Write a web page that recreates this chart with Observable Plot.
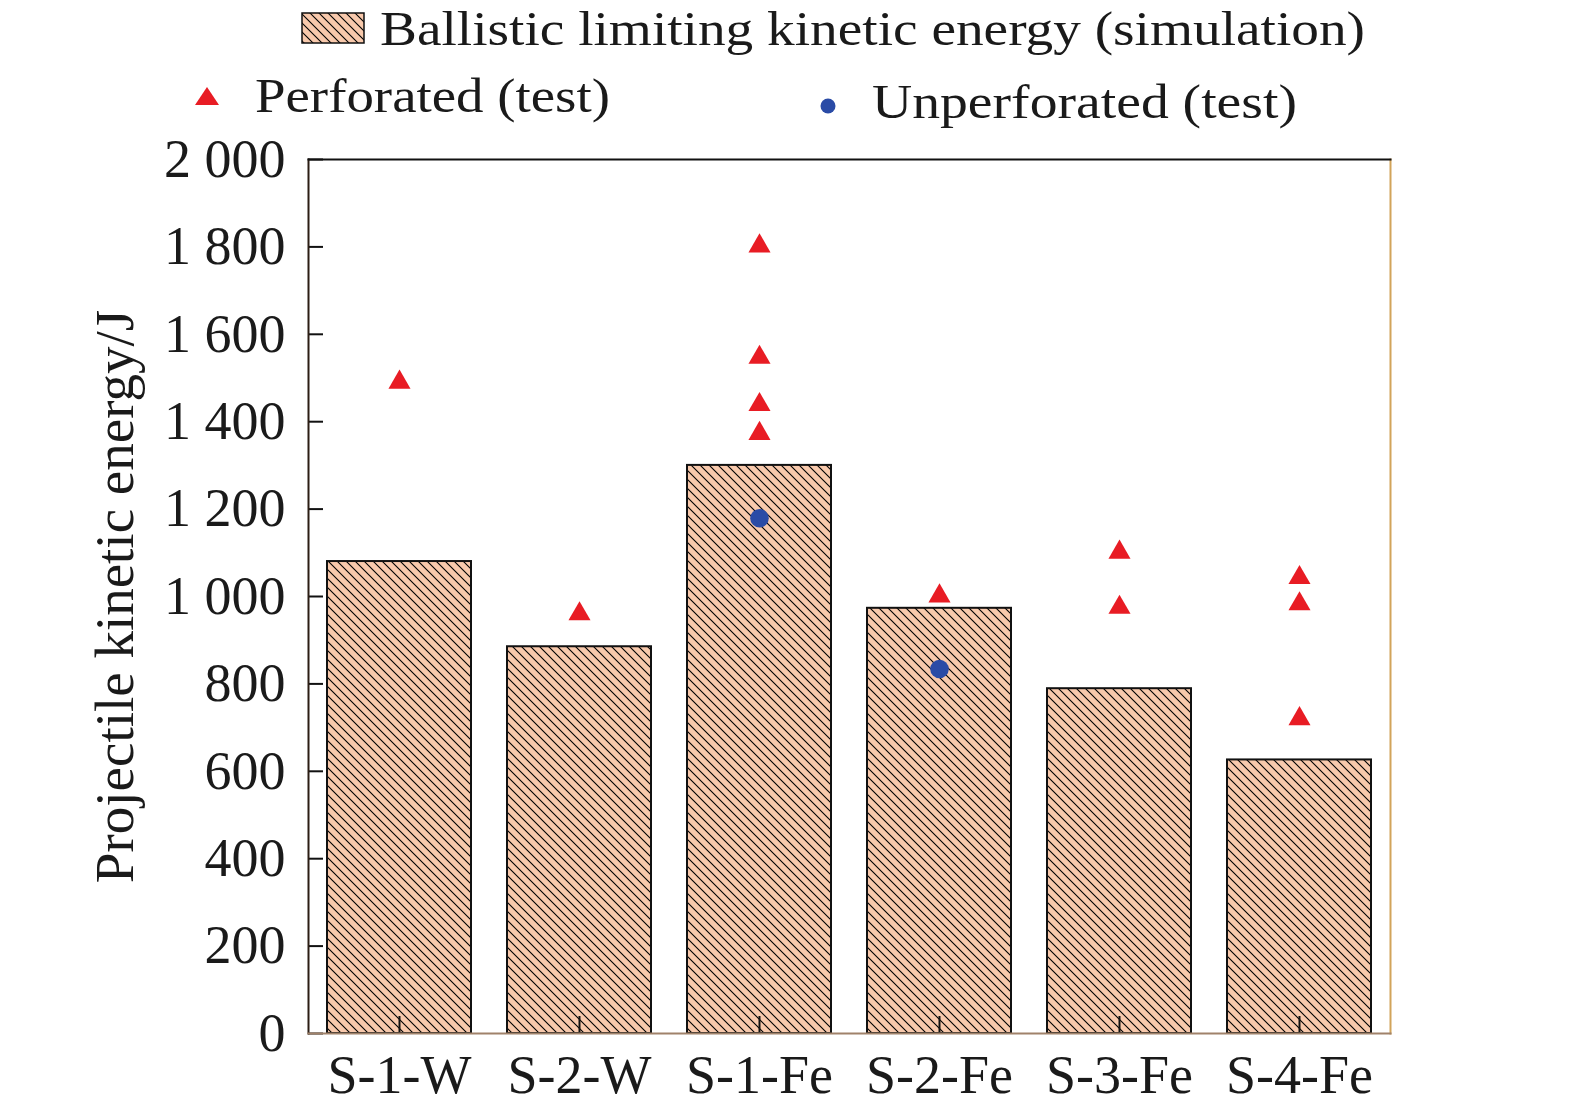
<!DOCTYPE html>
<html>
<head>
<meta charset="utf-8">
<script src="https://cdn.jsdelivr.net/npm/d3@7"></script>
<script src="https://cdn.jsdelivr.net/npm/@observablehq/plot@0.6"></script>
<style>
  html, body { margin: 0; padding: 0; background: #fff; overflow: hidden; }
  #legend svg, #chart svg { display: block; }
</style>
</head>
<body>
<div id="legend"></div>
<div id="chart"></div>
<script>
// ---- data ----
const categories = ["S-1-W", "S-2-W", "S-1-Fe", "S-2-Fe", "S-3-Fe", "S-4-Fe"];
const simulationValues = [1080, 885, 1300, 973, 789, 626];

const perforatedCats = ["S-1-W", "S-2-W", "S-1-Fe", "S-1-Fe", "S-1-Fe", "S-1-Fe", "S-2-Fe", "S-3-Fe", "S-3-Fe", "S-4-Fe", "S-4-Fe", "S-4-Fe"];
const perforatedValues = [1490, 960, 1802, 1547, 1439, 1373, 1001, 1101, 975, 1043, 983, 720];

const unperforatedCats = ["S-1-Fe", "S-2-Fe"];
const unperforatedValues = [1179, 834];

const yTicks = [0, 200, 400, 600, 800, 1000, 1200, 1400, 1600, 1800, 2000];

const legendLabels = ["Ballistic limiting kinetic energy (simulation)", "Perforated (test)", "Unperforated (test)"];
const yLabel = "Projectile kinetic energy/J";

// ---- tables ----
const bars = categories.map((c, i) => ({cat: c, value: simulationValues[i]}));
const perforated = perforatedCats.map((c, i) => ({cat: c, value: perforatedValues[i]}));
const unperforated = unperforatedCats.map((c, i) => ({cat: c, value: unperforatedValues[i]}));

// ---- styles ----
const FONT = "'Liberation Serif', 'Times New Roman', serif";
const PEACH = "#f8c9ac";
const RED = "#e81c24";
const BLUE = "#2a4ba6";
const TEXT = "#1a1a1a";

function addHatch(svgNode, id) {
  const ns = "http://www.w3.org/2000/svg";
  const defs = document.createElementNS(ns, "defs");
  const pat = document.createElementNS(ns, "pattern");
  pat.setAttribute("id", id);
  pat.setAttribute("patternUnits", "userSpaceOnUse");
  pat.setAttribute("width", 9);
  pat.setAttribute("height", 9);
  const r = document.createElementNS(ns, "rect");
  r.setAttribute("width", 9); r.setAttribute("height", 9); r.setAttribute("fill", PEACH);
  const p = document.createElementNS(ns, "path");
  p.setAttribute("d", "M0,0L9,9M-1,8L1,10M8,-1L10,1");
  p.setAttribute("stroke", "#000");
  p.setAttribute("stroke-width", 1.1);
  pat.appendChild(r); pat.appendChild(p);
  defs.appendChild(pat);
  svgNode.insertBefore(defs, svgNode.firstChild);
}

// ---- legend (above the chart svg) ----
const LEG_H = 134;
const leg = d3.create("svg").attr("width", 1575).attr("height", LEG_H)
  .style("font-family", FONT);
addHatch(leg.node(), "hatchLegend");
leg.append("rect").attr("x", 302).attr("y", 13).attr("width", 62).attr("height", 30)
  .attr("fill", "url(#hatchLegend)").attr("stroke", "#111").attr("stroke-width", 1.5);
leg.append("text").attr("x", 380).attr("y", 45).attr("font-size", 48).attr("fill", TEXT)
  .attr("textLength", 985).attr("lengthAdjust", "spacingAndGlyphs").text(legendLabels[0]);
leg.append("path").attr("d", "M207,87L219,105L195,105Z").attr("fill", RED);
leg.append("text").attr("x", 255).attr("y", 112).attr("font-size", 48).attr("fill", TEXT)
  .attr("textLength", 355).attr("lengthAdjust", "spacingAndGlyphs").text(legendLabels[1]);
leg.append("circle").attr("cx", 828).attr("cy", 106).attr("r", 7.5).attr("fill", BLUE);
leg.append("text").attr("x", 872).attr("y", 118).attr("font-size", 48).attr("fill", TEXT)
  .attr("textLength", 425).attr("lengthAdjust", "spacingAndGlyphs").text(legendLabels[2]);
document.getElementById("legend").appendChild(leg.node());

// ---- chart ----
const fmt = d => d >= 1000 ? `${Math.floor(d / 1000)} ${String(d % 1000).padStart(3, "0")}` : `${d}`;

const chart = Plot.plot({
  width: 1575,
  height: 1112 - LEG_H,
  marginTop: 159 - LEG_H,
  marginBottom: 79,
  marginLeft: 308,
  marginRight: 185,
  style: {fontFamily: FONT, color: TEXT, background: "white", overflow: "visible"},
  x: {domain: categories, paddingInner: 0.2, paddingOuter: 0.1, label: null},
  y: {domain: [0, 2000], label: null},
  marks: [
    Plot.barY(bars, {x: "cat", y: "value", fill: "url(#hatchChart)", stroke: "#111", strokeWidth: 2}),
    // inward tick marks
    Plot.axisY({ticks: yTicks, tickSize: 15, dx: 15, fill: "none", stroke: "#111", strokeWidth: 2, label: null}),
    Plot.axisX({tickSize: 17, dy: -17, fill: "none", stroke: "#111", strokeWidth: 2, label: null}),
    // tick labels
    Plot.axisY({ticks: yTicks, tickSize: 0, tickPadding: 23, tickFormat: fmt, fontSize: 54, label: null}),
    Plot.axisX({tickSize: 0, tickPadding: 21, fontSize: 54, label: null}),
    // frame
    Plot.frame({anchor: "left", stroke: "#2b1d14", strokeWidth: 2}),
    Plot.frame({anchor: "right", stroke: "#d2a45a", strokeWidth: 2}),
    Plot.frame({anchor: "bottom", stroke: "#a0826a", strokeWidth: 2}),
    Plot.frame({anchor: "top", stroke: "#111", strokeWidth: 2}),
    // test points
    Plot.dot(perforated, {x: "cat", y: "value", symbol: "triangle", r: 8.2, fill: RED}),
    Plot.dot(unperforated, {x: "cat", y: "value", symbol: "circle", r: 9.3, fill: BLUE}),
    // y label
    Plot.text([yLabel], {text: d => d, frameAnchor: "left", textAnchor: "middle", dx: -193, rotate: -90, fontSize: 55, fill: TEXT, ariaLabel: "ylabel"})
  ]
});
addHatch(chart, "hatchChart");
d3.select(chart).selectAll('g[aria-label="ylabel"] text')
  .attr("textLength", 574).attr("lengthAdjust", "spacingAndGlyphs");
document.getElementById("chart").appendChild(chart);
</script>
</body>
</html>
